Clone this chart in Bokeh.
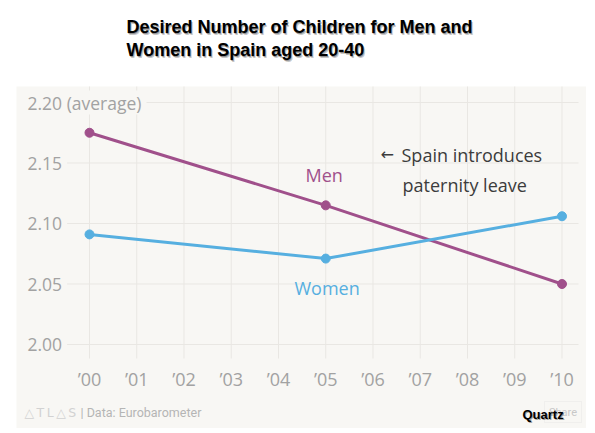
from bokeh.plotting import figure
from bokeh.models import Label, BoxAnnotation, Range1d
from bokeh.core.properties import value
from bokeh.embed import file_html
from bokeh.resources import INLINE

# ---------------- data ----------------
years = [2000, 2005, 2010]
men = [2.175, 2.115, 2.050]
women = [2.091, 2.071, 2.106]

x_ticks = list(range(2000, 2011))
x_tick_labels = ["’00", "’01", "’02", "’03", "’04", "’05", "’06", "’07", "’08", "’09", "’10"]
y_ticks = [2.00, 2.05, 2.10, 2.15, 2.20]
y_tick_labels = ["2.00", "2.05", "2.10", "2.15", "2.20 (average)"]

title_lines = ["Desired Number of Children for Men and", "Women in Spain aged 20-40"]

# ---------------- calibration (page pixels -> data) ----------------
def dx(px):
    return 2000 + (px - 89.0) / 47.25

def dy(py):
    return 2.00 + (344.0 - py) / 1210.0

W, H = 586, 428
BG = "#f8f7f4"
GRID = "#e9e7e3"
MEN_C = "#a0508b"
WOMEN_C = "#56afe0"
TICK_C = "#a2a2a2"
NOTE_C = "#3c3c3c"
FONT = "Open Sans"

p = figure(width=W, height=H,
           x_range=Range1d(dx(0), dx(W)), y_range=Range1d(dy(H), dy(0)),
           x_axis_type=None, y_axis_type=None,
           min_border=0, toolbar_location=None, output_backend="svg",
           outline_line_color=None, background_fill_color="white",
           border_fill_color="white")
p.grid.visible = False

# beige panel
p.add_layout(BoxAnnotation(left=dx(16), top=dy(86), fill_color=BG, fill_alpha=1.0,
                           line_color=None, level="underlay"))

# grid lines
p.segment(x0=x_ticks, x1=x_ticks, y0=dy(86), y1=dy(358), line_color=GRID, line_width=1)
p.segment(x0=dx(63), x1=dx(578), y0=y_ticks, y1=y_ticks, line_color=GRID, line_width=1)

# y tick labels (inside panel, masking the grid)
p.text(x=dx(27), y=y_ticks, text=y_tick_labels, text_font=value(FONT),
       text_font_size="17.5px", text_color=TICK_C, text_align="left",
       text_baseline="middle", background_fill_color=BG, padding=[0, 5, 0, 0])

# x tick labels
p.text(x=x_ticks, y=dy(378), text=x_tick_labels, text_font=value(FONT),
       text_font_size="18px", text_color=TICK_C, text_align="center",
       text_baseline="middle")

# series
p.line(years, men, line_color=MEN_C, line_width=3)
p.scatter(years, men, size=9, fill_color=MEN_C, line_color=MEN_C)
p.line(years, women, line_color=WOMEN_C, line_width=3)
p.scatter(years, women, size=9, fill_color=WOMEN_C, line_color=WOMEN_C)

# series labels / annotation
p.add_layout(Label(x=dx(305), y=dy(174), text="Men", text_font=FONT, text_font_size="18px",
                   text_color=MEN_C, text_baseline="middle"))
p.add_layout(Label(x=dx(294), y=dy(287), text="Women", text_font=FONT, text_font_size="18px",
                   text_color=WOMEN_C, text_baseline="middle"))
p.add_layout(Label(x=dx(380), y=dy(154), text="←", text_font="DejaVu Sans",
                   text_font_size="16px", text_color=NOTE_C, text_baseline="middle"))
p.add_layout(Label(x=dx(401), y=dy(154), text="Spain introduces", text_font=FONT,
                   text_font_size="18px", text_color=NOTE_C, text_baseline="middle"))
p.add_layout(Label(x=dx(402), y=dy(184), text="paternity leave", text_font=FONT,
                   text_font_size="18px", text_color=NOTE_C, text_baseline="middle"))

# title with soft shadow
for line, base in zip(title_lines, [26, 49]):
    for ox, oy, a in [(1.5, 2.0, 0.22), (0.5, 1.0, 0.3)]:
        p.add_layout(Label(x=dx(126 + ox), y=dy(base + oy), text=line, text_font="Liberation Sans",
                           text_font_style="bold", text_font_size="18px", text_color="black",
                           text_alpha=a, text_baseline="alphabetic"))
    p.add_layout(Label(x=dx(126), y=dy(base), text=line, text_font="Liberation Sans",
                       text_font_style="bold", text_font_size="18px", text_color="black",
                       text_baseline="alphabetic"))

# footer
p.add_layout(Label(x=dx(24), y=dy(412), text="△\u2009T\u2009L\u2009△\u2009S", text_font="DejaVu Sans",
                   text_font_size="12.5px", text_color="#d2d2d2", text_baseline="middle"))
p.add_layout(Label(x=dx(80), y=dy(412), text="| Data: Eurobarometer", text_font="Roboto",
                   text_font_size="12.5px", text_color="#b5b5b5", text_baseline="middle"))

# share button + Quartz badge
p.add_layout(BoxAnnotation(left=dx(544), right=dx(581), top=dy(401), bottom=dy(422),
                           fill_alpha=0, line_color="#dedede", line_width=1))
p.add_layout(Label(x=dx(562.5), y=dy(411.5), text="Share", text_font="Roboto",
                   text_font_size="11px", text_color="#c8c8c8", text_align="center",
                   text_baseline="middle"))
p.add_layout(Label(x=dx(523), y=dy(415), text="Quartz", text_font="Liberation Sans",
                   text_font_style="bold", text_font_size="13px", text_color="black",
                   text_alpha=0.35, text_baseline="middle"))
p.add_layout(Label(x=dx(522), y=dy(414), text="Quartz", text_font="Liberation Sans",
                   text_font_style="bold", text_font_size="13px", text_color="black",
                   text_baseline="middle"))

open("out.html", "w").write(file_html(p, INLINE))
